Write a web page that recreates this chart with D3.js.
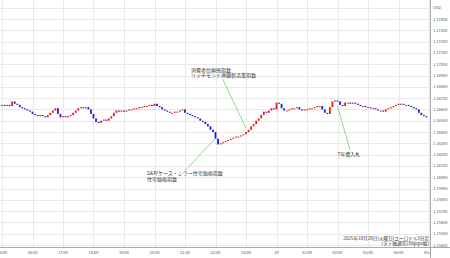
<!DOCTYPE html>
<html>
<head>
<meta charset="utf-8">
<script src="https://cdn.jsdelivr.net/npm/d3@7"></script>
<style>
  body { margin: 0; background: #fff; }
  text { font-family: "Noto Sans CJK JP", "DejaVu Sans", sans-serif; }
</style>
</head>
<body>
<div id="chart"></div>
<script>
// EUR/USD 5-minute candles, 2025-10-28 15:00 -> 2025-10-29 04:55 (JST)
var startTime = "2025-10-28 15:00";
var endTime = "2025-10-29 05:00";
var firstOpen = 1.1664;
var closes = [
  // 15:00
  1.1664, 1.1663, 1.1664, 1.1663, 1.1667, 1.1665, 1.1664, 1.1662, 1.1661, 1.1660, 1.1659, 1.1658,
  // 16:00
  1.1656, 1.1655, 1.1654, 1.1655, 1.1654, 1.1653, 1.1655, 1.1657, 1.1659, 1.1661, 1.1656, 1.1653,
  // 17:00
  1.1654, 1.1653, 1.1654, 1.1655, 1.1657, 1.1659, 1.1661, 1.1662, 1.1661, 1.1662, 1.1660, 1.1656,
  // 18:00
  1.1652, 1.1649, 1.1648, 1.1650, 1.1651, 1.1650, 1.1652, 1.1654, 1.1657, 1.1659, 1.1658, 1.1659,
  // 19:00
  1.1658, 1.1659, 1.1660, 1.1660, 1.1661, 1.1661, 1.1662, 1.1662, 1.1663, 1.1663, 1.1664, 1.1663,
  // 20:00
  1.1665, 1.1663, 1.1662, 1.1660, 1.1659, 1.1658, 1.1657, 1.1657, 1.1658, 1.1658, 1.1659, 1.1660,
  // 21:00
  1.1657, 1.1656, 1.1655, 1.1654, 1.1653, 1.1652, 1.1650, 1.1649, 1.1647, 1.1645, 1.1642, 1.1640,
  // 22:00
  1.1634, 1.1629, 1.1630, 1.1631, 1.1632, 1.1633, 1.1634, 1.1635, 1.1636, 1.1636, 1.1637, 1.1638,
  // 23:00
  1.1640, 1.1642, 1.1645, 1.1647, 1.1650, 1.1652, 1.1655, 1.1658, 1.1657, 1.1659, 1.1661, 1.1660,
  // 00:00
  1.1666, 1.1665, 1.1661, 1.1659, 1.1659, 1.1660, 1.1661, 1.1661, 1.1662, 1.1660, 1.1659, 1.1660,
  // 01:00
  1.1660, 1.1661, 1.1661, 1.1662, 1.1663, 1.1663, 1.1660, 1.1657, 1.1656, 1.1662, 1.1667, 1.1668,
  // 02:00
  1.1667, 1.1664, 1.1663, 1.1666, 1.1666, 1.1665, 1.1666, 1.1665, 1.1664, 1.1663, 1.1663, 1.1662,
  // 03:00
  1.1662, 1.1661, 1.1661, 1.1660, 1.1659, 1.1659, 1.1658, 1.1660, 1.1661, 1.1662, 1.1663, 1.1664,
  // 04:00
  1.1665, 1.1665, 1.1664, 1.1664, 1.1663, 1.1662, 1.1661, 1.1660, 1.1657, 1.1655, 1.1654, 1.1653
];

var xTickLabels = ["15:00", "16:00", "17:00", "18:00", "19:00", "20:00", "21:00", "22:00",
                   "23:00", "29", "01:00", "02:00", "03:00", "04:00", "05:00"];
var yMin = 1.154, yMax = 1.175, yStep = 0.001;
var yUnitLabel = "USD";

var notes = [
  { time: "2025-10-28 23:00", price: 1.16433, lines: ["消費者信頼感指数", "リッチモンド連銀製造業指数"] },
  { time: "2025-10-28 22:00", price: 1.16344, lines: ["S&P/ケース・シラー住宅価格指数", "住宅価格指数"] },
  { time: "2025-10-29 02:00", price: 1.16630, lines: ["7年債入札"] }
];
var captionLines = ["2025年10月28日(火曜日)ユーロドル5分足", "(タテ軸通常200pips幅)"];

// layout of the note labels (pixels): text left/baseline, start of the pointer line
var noteLayout = [
  { tx: 191, ty: 71.8, lx: 222.7, ly: 79 },
  { tx: 147, ty: 175, lx: 185, ly: 170.7 },
  { tx: 337.5, ty: 156, lx: 350, ly: 150 }
];

var W = 450, H = 258;
var plotRight = 430, plotBottom = 247;
var parseTime = d3.timeParse("%Y-%m-%d %H:%M");
var t0 = parseTime(startTime), t1 = parseTime(endTime);

var candles = closes.map(function (c, i) {
  var o = i === 0 ? firstOpen : closes[i - 1];
  return { time: d3.timeMinute.offset(t0, i * 5), open: o, close: c };
});

var x = d3.scaleTime().domain([t0, t1]).range([2, 429]);
var y = d3.scaleLinear().domain([yMin, yMax]).range([245, 7.7]);

var svg = d3.select("#chart").append("svg")
  .attr("width", W)
  .attr("height", H);

svg.append("rect").attr("width", W).attr("height", H).attr("fill", "#fff");

svg.append("clipPath").attr("id", "plot-clip")
  .append("rect").attr("x", 0).attr("y", 0).attr("width", plotRight).attr("height", H);

var yTicks = d3.range(0, Math.round((yMax - yMin) / yStep) + 1).map(function (k) { return yMin + k * yStep; });
var xTicks = d3.timeHour.range(t0, d3.timeMinute.offset(t1, 1));

// grid
var grid = svg.append("g").attr("clip-path", "url(#plot-clip)");
grid.selectAll("line.hgrid")
  .data(yTicks)
  .enter().append("line")
    .attr("class", "hgrid")
    .attr("x1", 0).attr("x2", plotRight)
    .attr("y1", function (d) { return Math.round(y(d)) + 0.5; })
    .attr("y2", function (d) { return Math.round(y(d)) + 0.5; })
    .attr("stroke", "#e9e9e9").attr("stroke-width", 1);
grid.selectAll("line.vgrid")
  .data(xTicks)
  .enter().append("line")
    .attr("class", "vgrid")
    .attr("x1", function (d) { return Math.round(x(d)) + 0.5; })
    .attr("x2", function (d) { return Math.round(x(d)) + 0.5; })
    .attr("y1", 0).attr("y2", plotBottom)
    .attr("stroke", "#e9e9e9").attr("stroke-width", 1);

// candles
var bw = 1.8;
var cg = svg.append("g").attr("clip-path", "url(#plot-clip)");
cg.selectAll("rect.candle")
  .data(candles)
  .enter().append("rect")
    .attr("class", "candle")
    .attr("x", function (d) { return x(d.time) - bw / 2; })
    .attr("width", bw)
    .attr("y", function (d) { return y(Math.max(d.open, d.close)); })
    .attr("height", function (d) { return Math.max(1, Math.abs(y(d.open) - y(d.close))); })
    .attr("fill", function (d) { return d.close >= d.open ? "#e41a1c" : "#1f1fcf"; });

// notes
var ng = svg.append("g");
notes.forEach(function (n, i) {
  var L = noteLayout[i];
  ng.append("line")
    .attr("x1", L.lx).attr("y1", L.ly)
    .attr("x2", x(parseTime(n.time))).attr("y2", y(n.price))
    .attr("stroke", "#6fd46f").attr("stroke-width", 0.8);
  var t = ng.append("text")
    .attr("x", L.tx).attr("y", L.ty)
    .attr("font-size", 5).attr("fill", "#333");
  n.lines.forEach(function (s, k) {
    t.append("tspan").attr("x", L.tx).attr("dy", k === 0 ? 0 : 5.5).text(s);
  });
});

// caption
var cap = svg.append("text")
  .attr("text-anchor", "end")
  .attr("font-size", 4.6).attr("fill", "#333");
captionLines.forEach(function (s, k) {
  cap.append("tspan").attr("x", 429).attr("y", 239.8 + k * 5.4).text(s);
});

// x axis
svg.append("line")
  .attr("x1", 0).attr("x2", W)
  .attr("y1", plotBottom + 0.5).attr("y2", plotBottom + 0.5)
  .attr("stroke", "#aaa").attr("stroke-width", 1);
svg.append("g").attr("clip-path", "url(#plot-clip)")
  .selectAll("text.xlab")
  .data(xTicks)
  .enter().append("text")
    .attr("class", "xlab")
    .attr("x", function (d) { return x(d); })
    .attr("y", 254)
    .attr("text-anchor", "middle")
    .attr("font-size", 4).attr("fill", "#555")
    .text(function (d, i) { return xTickLabels[i]; });

// y axis
svg.append("line")
  .attr("x1", plotRight + 0.5).attr("x2", plotRight + 0.5)
  .attr("y1", 0).attr("y2", H)
  .attr("stroke", "#aaa").attr("stroke-width", 1);
var fmt = d3.format(".5f");
svg.selectAll("text.ylab")
  .data(yTicks)
  .enter().append("text")
    .attr("class", "ylab")
    .attr("x", 433)
    .attr("y", function (d) { return y(d) + 1.5; })
    .attr("font-size", 4).attr("fill", "#555")
    .text(function (d, i) { return i === yTicks.length - 1 ? yUnitLabel : fmt(d); });
</script>
</body>
</html>
